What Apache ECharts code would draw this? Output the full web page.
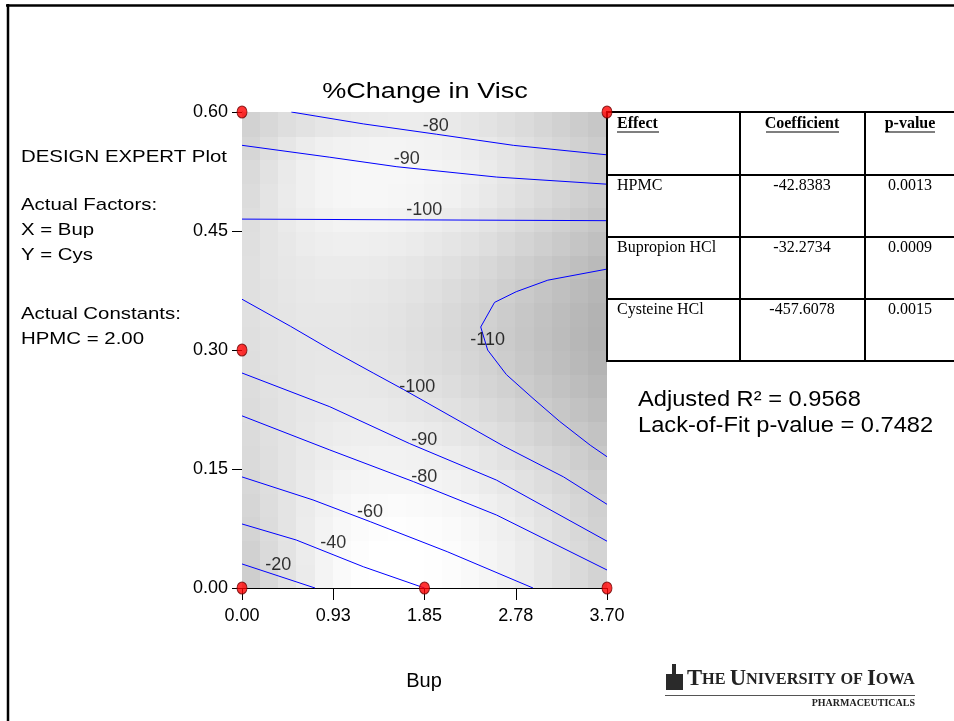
<!DOCTYPE html>
<html><head><meta charset="utf-8">
<script src="https://cdn.jsdelivr.net/npm/echarts@6/dist/echarts.min.js"></script>
<style>html,body{margin:0;padding:0;background:#fff}#c{width:954px;height:721px}</style>
</head><body><div id="c"></div>
<script>
// ---------------- data ----------------
const xTickLabels = ['0.00', '0.93', '1.85', '2.78', '3.70'];
const yTickLabels = ['0.00', '0.15', '0.30', '0.45', '0.60'];

// shading grid: 20 x 20 cells; gray level per cell (rows bottom -> top, columns left -> right)
const xCellCount = 20, yCellCount = 20;
const xRange = [0, 3.7], yRange = [0, 0.6];
const grayLevels = [
  [206, 216, 226, 235, 244, 250, 254, 255, 255, 255, 254, 252, 249, 245, 241, 236, 230, 224, 218, 211],
  [209, 218, 227, 236, 244, 250, 253, 255, 255, 255, 254, 252, 249, 245, 241, 236, 230, 224, 218, 212],
  [212, 220, 228, 236, 243, 248, 251, 253, 254, 253, 252, 250, 247, 243, 239, 234, 228, 222, 216, 210],
  [214, 221, 228, 235, 241, 246, 249, 250, 251, 250, 249, 247, 244, 240, 236, 231, 226, 220, 214, 208],
  [216, 222, 228, 234, 239, 243, 245, 246, 246, 246, 244, 242, 239, 235, 231, 226, 221, 216, 210, 204],
  [218, 223, 228, 233, 237, 240, 241, 242, 242, 241, 239, 237, 234, 230, 226, 221, 216, 211, 206, 200],
  [219, 224, 228, 232, 235, 237, 238, 238, 237, 236, 234, 231, 228, 224, 220, 215, 210, 205, 200, 195],
  [220, 224, 228, 231, 233, 234, 234, 234, 232, 230, 228, 225, 222, 218, 214, 209, 204, 199, 194, 189],
  [221, 225, 228, 230, 232, 232, 232, 231, 229, 227, 224, 221, 217, 213, 209, 204, 199, 194, 189, 184],
  [222, 226, 228, 230, 231, 231, 230, 229, 227, 224, 221, 218, 214, 210, 205, 200, 195, 190, 185, 180],
  [223, 226, 228, 230, 230, 230, 229, 228, 226, 223, 220, 216, 212, 208, 203, 198, 193, 188, 183, 178],
  [224, 227, 229, 231, 231, 231, 230, 229, 227, 224, 221, 217, 213, 209, 204, 199, 194, 189, 184, 179],
  [224, 227, 230, 232, 233, 233, 232, 231, 229, 227, 224, 220, 216, 212, 207, 202, 197, 192, 187, 182],
  [224, 228, 231, 233, 235, 235, 235, 234, 232, 230, 227, 224, 220, 216, 211, 206, 201, 196, 191, 186],
  [223, 228, 232, 236, 238, 239, 239, 238, 237, 235, 232, 229, 226, 222, 217, 212, 207, 202, 197, 192],
  [222, 228, 234, 238, 241, 243, 243, 243, 242, 240, 238, 235, 232, 228, 223, 218, 213, 208, 203, 198],
  [220, 228, 235, 240, 244, 246, 247, 247, 246, 245, 243, 241, 237, 233, 228, 223, 218, 213, 208, 203],
  [218, 226, 234, 240, 244, 246, 247, 247, 247, 246, 244, 242, 239, 235, 230, 225, 220, 215, 210, 205],
  [214, 222, 230, 236, 240, 242, 243, 244, 244, 243, 242, 240, 237, 233, 229, 224, 219, 214, 209, 204],
  [210, 216, 222, 226, 230, 232, 234, 235, 236, 236, 235, 233, 230, 227, 223, 219, 214, 209, 204, 199]
];

const designPoints = [[0, 0.6], [3.7, 0.6], [0, 0.3], [0, 0], [1.85, 0], [3.7, 0]];

// contour polylines [Bup, Cys]
const contourM80Upper = [[0.50, 0.600], [1.23, 0.585], [1.97, 0.572], [2.75, 0.558], [3.70, 0.546]];
const contourM90Upper = [[0, 0.558], [0.89, 0.543], [1.57, 0.531], [2.58, 0.518], [3.70, 0.509]];
const contourM100Upper = [[0, 0.465], [1.85, 0.464], [3.70, 0.463]];
const contourM110 = [[3.70, 0.402], [3.10, 0.388], [2.78, 0.3735], [2.56, 0.360], [2.42, 0.329], [2.49, 0.300],
  [2.68, 0.269], [2.95, 0.239], [3.22, 0.210], [3.53, 0.180], [3.70, 0.1655]];
const contourM100Lower = [[0, 0.364], [0.49, 0.330], [0.89, 0.301], [1.33, 0.271], [1.64, 0.250], [2.21, 0.210],
  [2.65, 0.179], [3.26, 0.140], [3.70, 0.1055]];
const contourM90Lower = [[0, 0.271], [0.89, 0.2285], [1.70, 0.182], [2.58, 0.136], [3.70, 0.059]];
const contourM80Lower = [[0, 0.217], [0.89, 0.174], [1.74, 0.134], [2.58, 0.092], [3.70, 0.0227]];
const contourM60 = [[0, 0.140], [0.72, 0.111], [1.30, 0.0836], [2.08, 0.0458], [2.95, 0]];
const contourM40 = [[0, 0.0807], [0.55, 0.0605], [1.23, 0.0268], [1.85, 0]];
const contourM20 = [[0, 0.0303], [0.74, 0]];

// contour labels [Bup, Cys, text]
const contourLabels = [
  [1.963, 0.582, '-80'], [1.669, 0.541, '-90'], [1.848, 0.477, '-100'], [2.49, 0.3126, '-110'],
  [1.777, 0.253, '-100'], [1.848, 0.1866, '-90'], [1.848, 0.140, '-80'], [1.298, 0.0962, '-60'],
  [0.926, 0.0563, '-40'], [0.368, 0.029, '-20']
];

// table
const tableHeader = ['Effect', 'Coefficient', 'p-value'];
const tableEffects = ['HPMC', 'Bupropion HCl', 'Cysteine HCl'];
const tableCoefficients = ['-42.8383', '-32.2734', '-457.6078'];
const tablePValues = ['0.0013', '0.0009', '0.0015'];

const sideNotes = ['DESIGN EXPERT Plot', 'Actual Factors:', 'X = Bup', 'Y = Cys', 'Actual Constants:', 'HPMC = 2.00'];
const fitStats = ['Adjusted R\u00B2 = 0.9568', 'Lack-of-Fit p-value = 0.7482'];

// ---------------- chart ----------------
const chart = echarts.init(document.getElementById('c'), null, {renderer: 'canvas'});

const cells = [];
const dx = (xRange[1] - xRange[0]) / xCellCount, dy = (yRange[1] - yRange[0]) / yCellCount;
for (let r = 0; r < grayLevels.length; r++) {
  for (let c = 0; c < grayLevels[r].length; c++) {
    cells.push([xRange[0] + c * dx, xRange[0] + (c + 1) * dx, yRange[0] + r * dy, yRange[0] + (r + 1) * dy, grayLevels[r][c]]);
  }
}

const contourSets = [contourM80Upper, contourM90Upper, contourM100Upper, contourM110, contourM100Lower,
  contourM90Lower, contourM80Lower, contourM60, contourM40, contourM20];

const F = 'Arial, "Liberation Sans", sans-serif';
const TF = '"Times New Roman", "Liberation Serif", serif';

const series = [{
  type: 'custom',
  z: 1,
  clip: true,
  data: cells,
  renderItem: function (params, api) {
    const p0 = api.coord([api.value(0), api.value(3)]);
    const p1 = api.coord([api.value(1), api.value(2)]);
    const g = api.value(4);
    return {
      type: 'rect',
      shape: {x: Math.floor(p0[0]), y: Math.floor(p0[1]), width: Math.ceil(p1[0] - p0[0]) + 1, height: Math.ceil(p1[1] - p0[1]) + 1},
      style: {fill: 'rgb(' + g + ',' + g + ',' + g + ')'}
    };
  },
  silent: true
}];

contourSets.forEach(function (d) {
  series.push({
    type: 'line', data: d, z: 3, showSymbol: false, symbol: 'none', silent: true,
    lineStyle: {color: '#0000ff', width: 1}, clip: true
  });
});

series.push({
  type: 'scatter', z: 4, symbolSize: 0, silent: true,
  data: contourLabels,
  label: {show: true, position: 'inside', formatter: function (p) { return p.value[2]; },
    color: '#000', fontSize: 18, fontFamily: F}
});

series.push({
  type: 'scatter', z: 20, zlevel: 1, data: designPoints, symbol: 'circle', symbolSize: [10, 12], silent: true, clip: false,
  itemStyle: {color: '#ff0000', borderColor: '#700000', borderWidth: 1}
});

// graphic overlay
const graphic = [];
// slide frame
graphic.push({type: 'line', shape: {x1: 6, y1: 5.5, x2: 960, y2: 5.5}, style: {stroke: '#000', lineWidth: 2.5}, z: 50});
graphic.push({type: 'line', shape: {x1: 8, y1: 4, x2: 8, y2: 725}, style: {stroke: '#000', lineWidth: 2.5}, z: 50});

// title
graphic.push({type: 'text', x: 425, y: 92, scaleX: 1.23, originX: 0, originY: 0,
  style: {text: '%Change in Visc', font: '22px ' + F, fill: '#000', align: 'center', verticalAlign: 'middle'}, z: 50});
// x axis name
graphic.push({type: 'text', x: 424, y: 681,
  style: {text: 'Bup', font: '20px ' + F, fill: '#000', align: 'center', verticalAlign: 'middle'}, z: 50});

// side notes
const sideY = [157, 205, 230, 255, 314, 339];
sideNotes.forEach(function (t, i) {
  graphic.push({type: 'text', x: 21, y: sideY[i], scaleX: 1.2, originX: 0, originY: 0,
    style: {text: t, font: '17px ' + F, fill: '#000', align: 'left', verticalAlign: 'middle'}, z: 50});
});

// fit stats
fitStats.forEach(function (t, i) {
  graphic.push({type: 'text', x: 638, y: 400 + i * 26, scaleX: 1.075, originX: 0, originY: 0,
    style: {text: t, font: '22px ' + F, fill: '#000', align: 'left', verticalAlign: 'middle'}, z: 50});
});

// table
const colX = [607, 740, 865, 956];
const rowY = [112, 175, 237, 299, 361];
graphic.push({type: 'rect', shape: {x: 607, y: 112, width: 349, height: 249}, style: {fill: '#fff'}, z: 30});
rowY.forEach(function (y) {
  graphic.push({type: 'line', shape: {x1: 606, y1: y, x2: 956, y2: y}, style: {stroke: '#000', lineWidth: 2}, z: 31});
});
colX.forEach(function (x) {
  graphic.push({type: 'line', shape: {x1: x, y1: 111, x2: x, y2: 362}, style: {stroke: '#000', lineWidth: 2}, z: 31});
});
// header
const headerX = [617, 802, 910];
const headerAlign = ['left', 'center', 'center'];
tableHeader.forEach(function (t, i) {
  graphic.push({type: 'text', x: headerX[i], y: 124,
    style: {text: t, font: 'bold 16px ' + TF, fill: '#000', align: headerAlign[i], verticalAlign: 'middle'}, z: 32});
});
// underline headers
const hdrUnder = [[617, 659], [766, 839], [885, 935]];
hdrUnder.forEach(function (u) {
  graphic.push({type: 'line', shape: {x1: u[0], y1: 132, x2: u[1], y2: 132}, style: {stroke: '#000', lineWidth: 1.2}, z: 32});
});
const bodyY = [186, 248, 310];
tableEffects.forEach(function (t, i) {
  graphic.push({type: 'text', x: 617, y: bodyY[i],
    style: {text: t, font: '16px ' + TF, fill: '#000', align: 'left', verticalAlign: 'middle'}, z: 32});
  graphic.push({type: 'text', x: 802, y: bodyY[i],
    style: {text: tableCoefficients[i], font: '16px ' + TF, fill: '#000', align: 'center', verticalAlign: 'middle'}, z: 32});
  graphic.push({type: 'text', x: 910, y: bodyY[i],
    style: {text: tablePValues[i], font: '16px ' + TF, fill: '#000', align: 'center', verticalAlign: 'middle'}, z: 32});
});

// logo
graphic.push({type: 'rect', shape: {x: 666, y: 674, width: 17, height: 16}, style: {fill: '#2a2a2a'}, z: 50});
graphic.push({type: 'rect', shape: {x: 672, y: 664, width: 4, height: 10}, style: {fill: '#2a2a2a'}, z: 50});
graphic.push({type: 'text', x: 687, y: 691, scaleX: 0.985, originX: 0, originY: 0,
  style: {
    text: '{b|T}{s|HE }{b|U}{s|NIVERSITY OF }{b|I}{s|OWA}',
    fill: '#222', align: 'left', verticalAlign: 'bottom',
    rich: {
      b: {font: 'bold 23px ' + TF, fill: '#222'},
      s: {font: 'bold 16.5px ' + TF, fill: '#222'}
    }
  }, z: 50});
graphic.push({type: 'line', shape: {x1: 665, y1: 695.5, x2: 915, y2: 695.5}, style: {stroke: '#555', lineWidth: 1}, z: 50});
graphic.push({type: 'text', x: 915, y: 703,
  style: {text: 'PHARMACEUTICALS', font: 'bold 10px ' + TF, fill: '#222', align: 'right', verticalAlign: 'middle'}, z: 50});

chart.setOption({
  animation: false,
  backgroundColor: '#fff',
  grid: {left: 242, top: 112, width: 365, height: 476, containLabel: false},
  xAxis: {
    type: 'value', min: 0, max: 3.7, interval: 0.925,
    axisLine: {show: true, onZero: false, lineStyle: {color: '#000', width: 1}},
    axisTick: {show: true, length: 12, lineStyle: {color: '#000'}},
    axisLabel: {formatter: function (v) { return xTickLabels[Math.round(v / 0.925)]; }, fontSize: 18, color: '#000',
      fontFamily: F, margin: 19},
    splitLine: {show: false}
  },
  yAxis: {
    type: 'value', min: 0, max: 0.6, interval: 0.15,
    axisLine: {show: true, onZero: false, lineStyle: {color: '#444', width: 1}},
    axisTick: {show: true, length: 10, lineStyle: {color: '#000'}},
    axisLabel: {formatter: function (v) { return yTickLabels[Math.round(v / 0.15)]; }, fontSize: 18, color: '#000',
      fontFamily: F, margin: 14},
    splitLine: {show: false}
  },
  series: series,
  graphic: graphic
});
</script></body></html>
